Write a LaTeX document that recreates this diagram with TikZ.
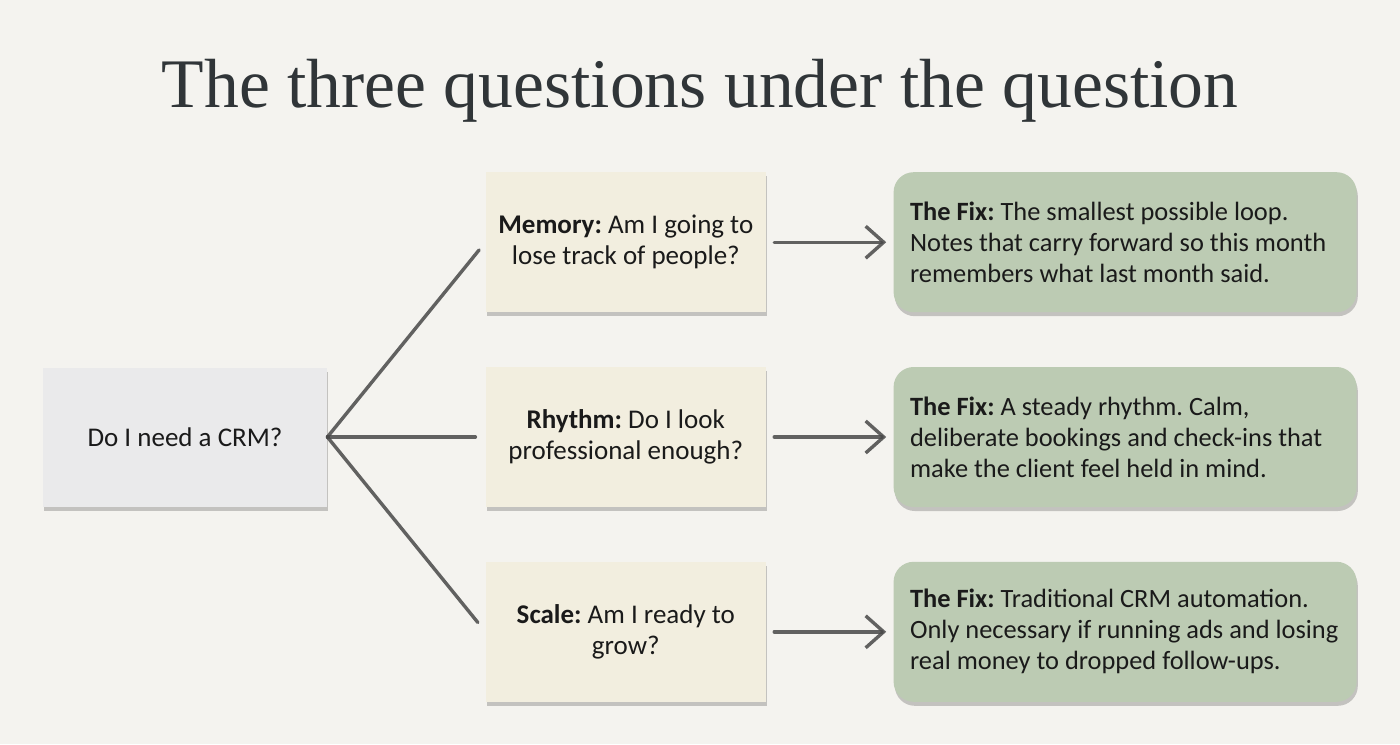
\documentclass[tikz,border=0pt]{standalone}
\usepackage{fontspec}
\setmainfont{Carlito}
\newfontfamily\titlefont{Liberation Serif}
\usepackage{xcolor}
\usetikzlibrary{arrows.meta, positioning, shadows}
\definecolor{paper}{RGB}{244,243,239}
\definecolor{askfill}{RGB}{234,234,235}
\definecolor{qfill}{RGB}{242,238,223}
\definecolor{fixfill}{RGB}{188,203,179}
\definecolor{pencil}{RGB}{72,72,72}
\definecolor{ink}{RGB}{26,26,26}
\definecolor{titleink}{RGB}{48,53,56}

\begin{document}
\frenchspacing
\begin{tikzpicture}[
  x=0.5pt, y=-0.5pt,
  every node/.style={font=\fontsize{13.5}{15.5}\selectfont, text=ink},
  card/.style={rectangle, inner sep=0pt,
               drop shadow={shadow xshift=0.6pt, shadow yshift=-2pt,
                            fill=black, opacity=0.2}},
  ask/.style={card, fill=askfill, minimum width=142pt, minimum height=69.5pt},
  qbox/.style={card, fill=qfill, align=center,
               minimum width=140pt, minimum height=70pt},
  fixbox/.style={card, fill=fixfill, rounded corners=10pt, align=flush left,
                 font=\fontsize{13.2}{15.5}\selectfont,
                 text width=215pt, inner xsep=8.25pt, minimum height=70pt},
  stroke/.style={draw=pencil, line width=1.7pt, line cap=round, opacity=0.85},
  arr/.style={stroke, -{Straight Barb[length=9pt, width=16pt]},
              shorten <=4pt, shorten >=3.5pt},
]
\fill[paper] (0,0) rectangle (1400,744);

\node[anchor=base, font=\titlefont\fontsize{34.8}{40}\selectfont,
      text=titleink] (title) at (700,107)
  {The three questions under the question};

% the question on the left
\node[ask] (crm) at (185,437) {Do I need a CRM?};

% what is really being asked
\node[qbox, right=79pt of crm] (rhythm)
  {\textbf{Rhythm:} Do I look\\professional enough?};
\node[qbox, above=27pt of rhythm] (memory)
  {\textbf{Memory:} Am I going to\\lose track of people?};
\node[qbox, below=27pt of rhythm] (scale)
  {\textbf{Scale:} Am I ready to\\grow?};

% and what fixes it
\node[fixbox, right=63.5pt of memory] (fixmemory) {
  \textbf{The Fix:} The smallest possible loop.\\
  Notes that carry forward so this month\\
  remembers what last month said.
};
\node[fixbox, right=63.5pt of rhythm] (fixrhythm) {
  \textbf{The Fix:} A steady rhythm. Calm,\\
  deliberate bookings and check-ins that\\
  make the client feel held in mind.
};
\node[fixbox, right=63.5pt of scale] (fixscale) {
  \textbf{The Fix:} Traditional CRM automation.\\
  Only necessary if running ads and losing\\
  real money to dropped follow-ups.
};

\draw[stroke, shorten >=5pt] (crm.east) -- (memory.west);
\draw[stroke, shorten >=5pt] (crm.east) -- (rhythm.west);
\draw[stroke, shorten >=6pt] (crm.east) -- (scale.west);

\draw[arr] (memory) -- (fixmemory);
\draw[arr] (rhythm) -- (fixrhythm);
\draw[arr] (scale) -- (fixscale);
\end{tikzpicture}
\end{document}
